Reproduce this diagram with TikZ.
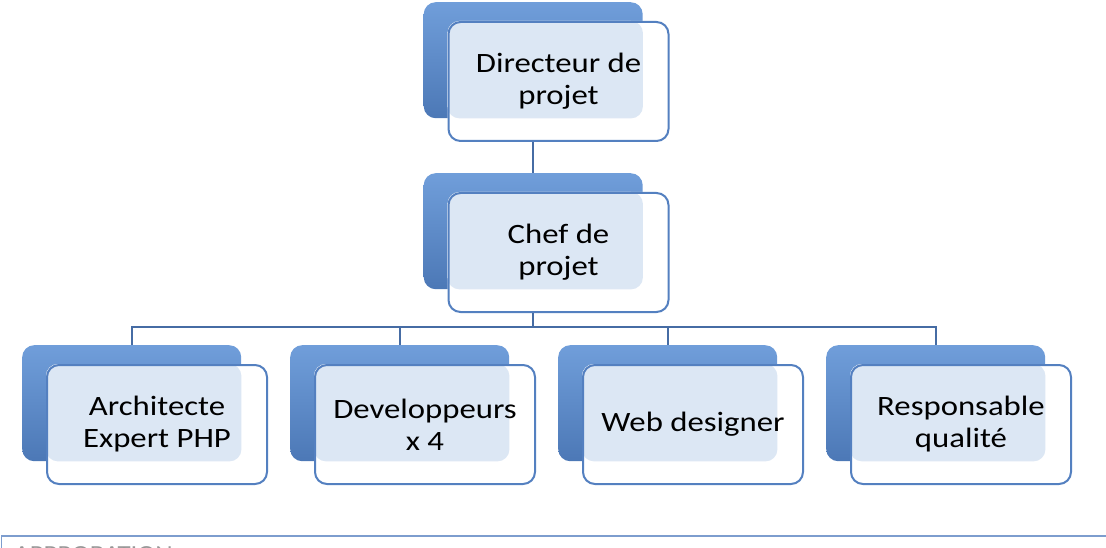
\documentclass[tikz,border=0pt]{standalone}
\usepackage{fontspec}
\setmainfont{Carlito}[FakeStretch=1.17]
\usetikzlibrary{calc}
\definecolor{backtop}{RGB}{112,158,218}
\definecolor{backbot}{RGB}{76,120,182}
\definecolor{frameblue}{RGB}{84,128,192}
\definecolor{linkblue}{RGB}{70,108,164}
\definecolor{glassblue}{RGB}{220,231,244}
\definecolor{rulegray}{RGB}{125,157,206}
\definecolor{capgray}{RGB}{150,150,150}
\pgfdeclareverticalshading{glass}{100bp}{color(0bp)=(white); color(10bp)=(white); color(26bp)=(glassblue); color(100bp)=(glassblue)}
\pgfdeclarelayer{back}
\pgfdeclarelayer{mid}
\pgfsetlayers{back,mid,main}
\tikzset{
  backbox/.style={rectangle, rounded corners=12pt, minimum width=219pt, minimum height=116pt,
    anchor=north west, inner sep=0pt, top color=backtop, bottom color=backbot, draw=none},
  frontbox/.style={rectangle, rounded corners=12pt, minimum width=220pt, minimum height=119pt,
    anchor=north west, inner sep=0pt, draw=frameblue, line width=2pt, align=center,
    font=\fontsize{28pt}{32pt}\selectfont, text=black},
  link/.style={draw=linkblue, line width=1.6pt}
}
\newcommand{\orgunit}[4]{%
  \begin{pgfonlayer}{back}
    \node[backbox] (#1b) at (#2,-#3) {};
  \end{pgfonlayer}
  \node[frontbox] (#1) at ($(#1b.north west)+(24pt,-19pt)$) {#4};
  \begin{pgfonlayer}{mid}
    \fill[white, rounded corners=12pt] (#1.south west) rectangle (#1.north east);
    \shade[shading=glass, rounded corners=12pt] (#1.north west) rectangle (#1b.south east);
  \end{pgfonlayer}
}
\begin{document}
\begin{tikzpicture}[x=1pt,y=1pt]
\useasboundingbox (0,0) rectangle (1106,-548);
\orgunit{dir}{423.5}{2}{Directeur de\\projet}
\orgunit{chef}{423.5}{173}{Chef de\\projet}
\orgunit{arch}{22}{345}{Architecte\\Expert PHP}
\orgunit{dev}{290}{345}{Developpeurs\\x 4}
\orgunit{web}{558}{345}{Web designer}
\orgunit{qual}{826}{345}{Responsable\\qualité}
\coordinate (hub) at (chefb.center |- 0,-327);
\draw[link] (dir.south -| dirb.center) -- (chefb.north);
\draw[link] (chef.south -| chefb.center) -- (hub);
\foreach \n in {arch,dev,web,qual} {
  \draw[link] (hub) -| (\n b.north);
}
\coordinate (rulel) at (1.5,-548);
\coordinate (rulec) at (1.5,-536);
\coordinate (ruler) at (1106,-536);
\draw[draw=rulegray, line width=1.8pt] (rulel) -- (rulec) -- (ruler);
\begin{scope}
  \clip (0,-536) rectangle (1106,-548);
  \node[anchor=base west, inner sep=0pt, text=capgray, font=\fontsize{23pt}{27pt}\selectfont] (cap) at (14,-561.5) {APPROBATION};
\end{scope}
\end{tikzpicture}
\end{document}
